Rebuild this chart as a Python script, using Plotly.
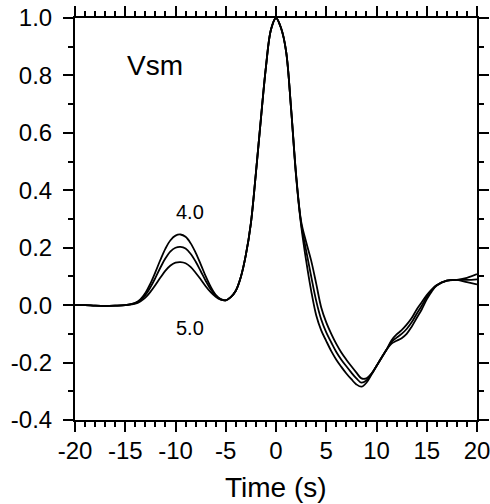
import plotly.graph_objects as go

# time samples (s)
t = [-20, -19, -18, -17, -16, -15, -14, -13.5, -13, -12.5, -12, -11.5, -11, -10.5, -10,
     -9.5, -9, -8.5, -8, -7.5, -7, -6.5, -6, -5.5, -5, -4.5, -4, -3.5, -3, -2.5, -2,
     -1.5, -1, -0.5, 0, 0.5, 1, 1.5, 2, 2.5, 3, 3.5, 4, 4.5, 5, 5.5, 6, 6.5, 7, 7.5,
     8, 8.5, 9, 9.5, 10, 10.5, 11, 11.5, 12, 12.5, 13, 13.5, 14, 14.5, 15, 15.5, 16,
     17, 18, 19, 20]

# curve labelled 4.0
v40 = [0.0, 0.0, -0.002, -0.003, -0.002, 0.0, 0.008, 0.02, 0.042, 0.075, 0.115, 0.158, 0.197, 0.226, 0.242,
       0.246, 0.238, 0.216, 0.183, 0.143, 0.101, 0.064, 0.036, 0.021, 0.017, 0.028, 0.05, 0.098, 0.175, 0.285, 0.46,
       0.65, 0.83, 0.96, 1.0, 0.965, 0.885, 0.685, 0.448, 0.278, 0.155, 0.05, -0.035, -0.088, -0.125, -0.16, -0.19, -0.215, -0.238, -0.258,
       -0.276, -0.284, -0.27, -0.242, -0.212, -0.183, -0.155, -0.134, -0.124, -0.115, -0.1, -0.075, -0.045, -0.015, 0.02, 0.048, 0.068,
       0.085, 0.088, 0.08, 0.072]

# intermediate curve (4.5)
v45 = [0.0, 0.0, -0.002, -0.003, -0.002, 0.0, 0.007, 0.017, 0.035, 0.062, 0.095, 0.131, 0.163, 0.187, 0.2,
       0.203, 0.197, 0.179, 0.152, 0.119, 0.085, 0.055, 0.033, 0.02, 0.017, 0.028, 0.05, 0.098, 0.175, 0.285, 0.46,
       0.65, 0.83, 0.96, 1.0, 0.965, 0.885, 0.685, 0.452, 0.285, 0.19, 0.1, 0.015, -0.05, -0.095, -0.13, -0.163, -0.19, -0.213, -0.235,
       -0.255, -0.27, -0.262, -0.24, -0.212, -0.183, -0.155, -0.128, -0.113, -0.1, -0.083, -0.06, -0.03, -0.002, 0.028, 0.052, 0.069,
       0.085, 0.088, 0.088, 0.09]

# curve labelled 5.0
v50 = [0.0, 0.0, -0.002, -0.003, -0.002, 0.0, 0.005, 0.013, 0.026, 0.046, 0.07, 0.096, 0.12, 0.138, 0.148,
       0.15, 0.146, 0.133, 0.113, 0.09, 0.066, 0.045, 0.029, 0.019, 0.017, 0.028, 0.05, 0.098, 0.175, 0.285, 0.46,
       0.65, 0.83, 0.96, 1.0, 0.965, 0.885, 0.685, 0.456, 0.292, 0.22, 0.155, 0.075, -0.008, -0.06, -0.1, -0.135, -0.165, -0.19, -0.213,
       -0.235, -0.255, -0.255, -0.238, -0.212, -0.183, -0.155, -0.122, -0.102, -0.087, -0.068, -0.045, -0.015, 0.01, 0.035, 0.055, 0.07,
       0.085, 0.088, 0.095, 0.108]

x_ticks = [-20, -15, -10, -5, 0, 5, 10, 15, 20]
x_labels = ["-20", "-15", "-10", "-5", "0", "5", "10", "15", "20"]
y_ticks = [-0.4, -0.2, 0.0, 0.2, 0.4, 0.6, 0.8, 1.0]
y_labels = ["-0.4", "-0.2", "0.0", "0.2", "0.4", "0.6", "0.8", "1.0"]

FONT = "Liberation Sans, Arial, Helvetica, sans-serif"

fig = go.Figure()
for name, ys in [("4.0", v40), ("4.5", v45), ("5.0", v50)]:
    fig.add_trace(go.Scatter(x=t, y=ys, mode="lines", name=name,
                             line=dict(color="black", width=1.8, shape="spline", smoothing=1.0),
                             showlegend=False))

axis_common = dict(showgrid=False, zeroline=False, showline=True, linecolor="black", linewidth=2,
                   ticks="outside", ticklen=10, tickwidth=1.5, tickcolor="black", mirror="ticks",
                   automargin=False, ticklabeloverflow="allow",
                   tickfont=dict(family=FONT, size=24, color="black"))

fig.update_xaxes(range=[-20, 20], tickvals=x_ticks, ticktext=x_labels, ticklabelstandoff=-2,
                 minor=dict(dtick=1, tick0=0, ticks="outside", ticklen=5, tickwidth=1.5, tickcolor="black"),
                 **axis_common)
fig.update_yaxes(range=[-0.4, 1.0], tickvals=y_ticks, ticktext=y_labels, ticklabelstandoff=6,
                 minor=dict(dtick=0.1, tick0=0, ticks="outside", ticklen=5, tickwidth=1.5, tickcolor="black"),
                 **axis_common)

fig.add_annotation(x=0.5, y=-0.1667, xref="paper", yref="paper", text="Time (s)", showarrow=False,
                   xanchor="center", yanchor="middle", font=dict(family=FONT, size=28, color="black"))
fig.add_annotation(x=-12.04, y=0.836, text="Vsm", showarrow=False, xanchor="center", yanchor="middle",
                   font=dict(family=FONT, size=28, color="black"))
fig.add_annotation(x=-8.56, y=0.324, text="4.0", showarrow=False, xanchor="center", yanchor="middle",
                   font=dict(family=FONT, size=20, color="black"))
fig.add_annotation(x=-8.56, y=-0.078, text="5.0", showarrow=False, xanchor="center", yanchor="middle",
                   font=dict(family=FONT, size=20, color="black"))

fig.update_layout(width=490, height=504, margin=dict(l=75, r=13, t=18, b=84, autoexpand=False),
                  paper_bgcolor="white", plot_bgcolor="white", font=dict(family=FONT))

fig.write_html("out.html")
